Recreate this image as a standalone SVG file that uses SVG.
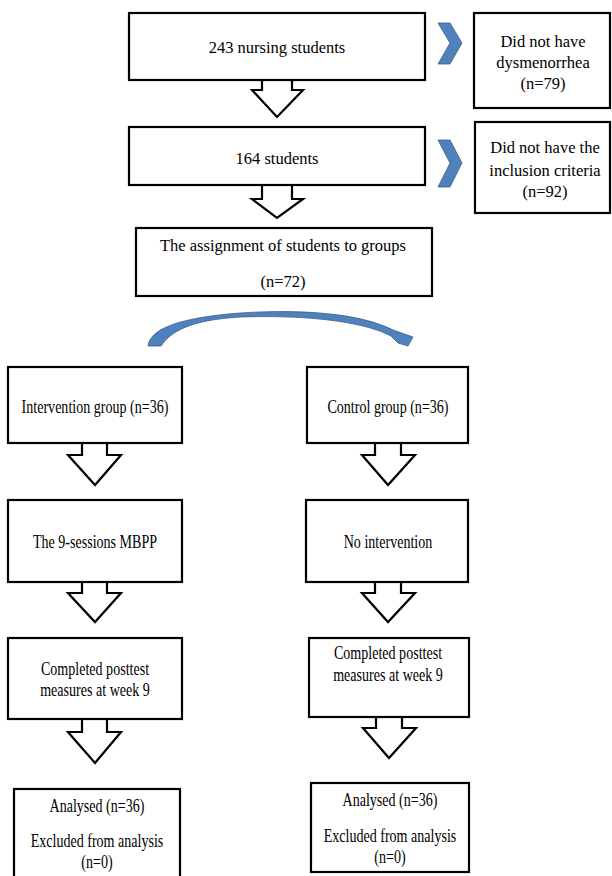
<svg xmlns="http://www.w3.org/2000/svg" width="612" height="876" viewBox="0 0 612 876">
<style>
.box{fill:#fff;stroke:#000;stroke-width:2.2}
.arr{fill:#fff;stroke:#000;stroke-width:2.2;stroke-linejoin:miter}
.blue{fill:#4f81bd;stroke:#385d8a;stroke-width:0.8}
text{font-family:'Liberation Serif',serif;fill:#000;text-anchor:middle}
.t{font-size:16.5px}
.s{font-size:19px}
</style>
<rect width="612" height="876" fill="#fff"/>
<g id="connectors">
<path class="arr" d="M262,80 V90 H252 L277,117 L303,90 H292 V80"/>
<path class="arr" d="M262,185 V199 H252 L277,218 L303,199 H292 V185"/>
<path class="arr" d="M82,443 V455 H68 L95,485 L121,455 H107 V443"/>
<path class="arr" d="M82,582 V593 H68 L95,622 L121,593 H107 V582"/>
<path class="arr" d="M82,719 V732 H68 L95,763 L121,732 H107 V719"/>
<path class="arr" d="M375,443 V455 H362 L388,485 L415,455 H401 V443"/>
<path class="arr" d="M375,582 V593 H362 L388,622 L415,593 H401 V582"/>
<path class="arr" d="M376,717 V728 H363 L389,758 L416,728 H402 V717"/>
<polygon class="blue" points="438,23 450,23 462,43 450,64 438,64 450,43"/>
<polygon class="blue" points="438,140 450,140 462,163 450,187 438,187 450,163"/>
<path class="blue" d="M148,346 C150,330 175,318 240,313 C300,309 360,313 393,330 L413,337 L408,346 L398,343 L391,336 C360,320 300,315 240,317 C190,320 170,332 161,346 Z"/>
</g>
<g id="n1"><rect class="box" x="129" y="13" width="296" height="67"/><text class="t" x="277" y="53" font-family="Liberation Serif, serif">243 nursing students</text></g>
<g id="n2"><rect class="box" x="129" y="127" width="296" height="58"/><text class="t" x="277" y="164">164 students</text></g>
<g id="x1"><rect class="box" x="474" y="13" width="136" height="95"/><text class="t" x="543" y="47">Did not have</text><text class="t" x="543" y="68">dysmenorrhea</text><text class="t" x="543" y="89">(n=79)</text></g>
<g id="x2"><rect class="box" x="475" y="122" width="135" height="91"/><text class="t" x="545" y="153">Did not have the</text><text class="t" x="545" y="176">inclusion criteria</text><text class="t" x="545" y="197">(n=92)</text></g>
<g id="n3"><rect class="box" x="136" y="228" width="296" height="68"/><text class="t" x="283" y="251">The assignment of students to groups</text><text class="t" x="283" y="287">(n=72)</text></g>
<g id="i1"><rect class="box" x="8" y="367" width="174" height="76"/><text class="s" transform="translate(95,413) scale(0.74,1)">Intervention group (n=36)</text></g>
<g id="i2"><rect class="box" x="8" y="500" width="174" height="82"/><text class="s" transform="translate(95,548) scale(0.74,1)">The 9-sessions MBPP</text></g>
<g id="i3"><rect class="box" x="8" y="638" width="174" height="81"/><text class="s" transform="translate(95,675) scale(0.74,1)">Completed posttest</text><text class="s" transform="translate(95,696) scale(0.74,1)">measures at week 9</text></g>
<g id="i4"><rect class="box" x="14" y="789" width="166" height="95"/><text class="s" transform="translate(97,812) scale(0.74,1)">Analysed (n=36)</text><text class="s" transform="translate(97,847) scale(0.74,1)">Excluded from analysis</text><text class="s" transform="translate(97,868) scale(0.74,1)">(n=0)</text></g>
<g id="c1"><rect class="box" x="307" y="367" width="161" height="76"/><text class="s" transform="translate(388,413) scale(0.74,1)">Control group (n=36)</text></g>
<g id="c2"><rect class="box" x="306" y="500" width="162" height="82"/><text class="s" transform="translate(388,548) scale(0.74,1)">No intervention</text></g>
<g id="c3"><rect class="box" x="309" y="638" width="160" height="79"/><text class="s" transform="translate(388,659) scale(0.74,1)">Completed posttest</text><text class="s" transform="translate(388,681) scale(0.74,1)">measures at week 9</text></g>
<g id="c4"><rect class="box" x="311" y="783" width="158" height="89"/><text class="s" transform="translate(390,806) scale(0.74,1)">Analysed (n=36)</text><text class="s" transform="translate(390,842) scale(0.74,1)">Excluded from analysis</text><text class="s" transform="translate(390,863) scale(0.74,1)">(n=0)</text></g>
</svg>
